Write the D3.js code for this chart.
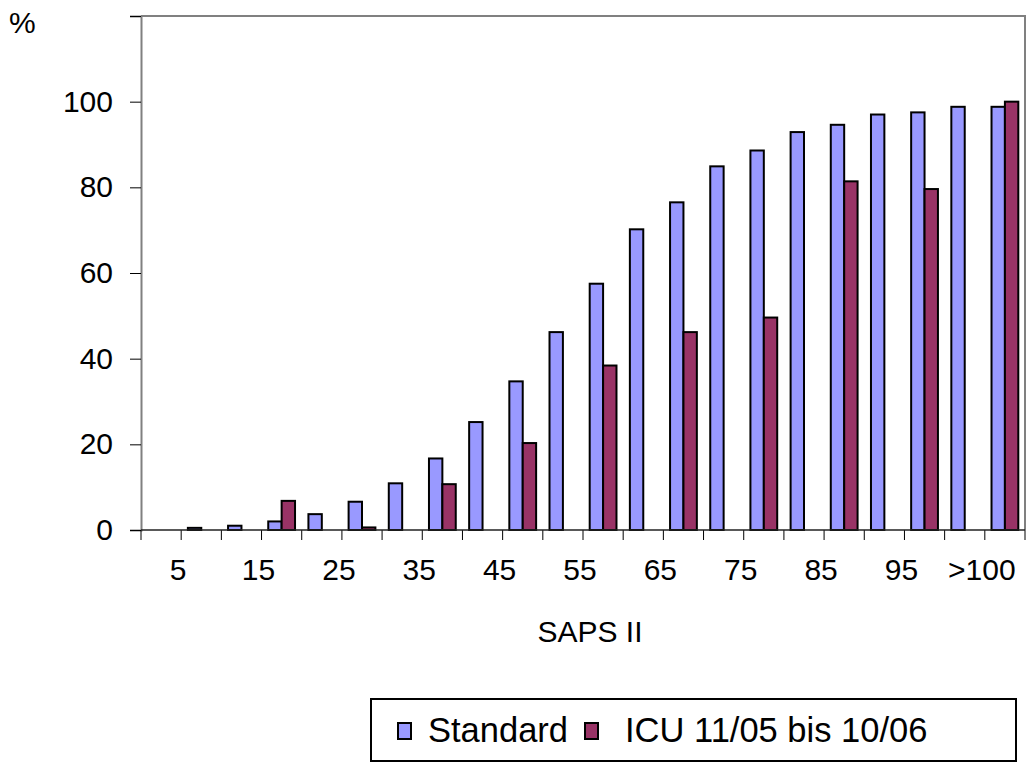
<!DOCTYPE html>
<html>
<head>
<meta charset="utf-8">
<script src="https://cdn.jsdelivr.net/npm/d3@7"></script>
<style>
  html, body { margin: 0; padding: 0; background: #fff; }
  svg { display: block; font-family: "Liberation Sans", Arial, sans-serif; }
</style>
</head>
<body>
<svg id="chart" width="1027" height="762"></svg>
<script>
// SAPS II score classes (0 … 100 in steps of 5, then >100)
const categories = ["0", "5", "10", "15", "20", "25", "30", "35", "40", "45", "50",
                    "55", "60", "65", "70", "75", "80", "85", "90", "95", "100", ">100"];

// Mortality in % per score class
const standardValues = [0, 0.5, 1, 2, 3.7, 6.6, 10.9, 16.7, 25.2, 34.7, 46.2,
                        57.5, 70.2, 76.5, 84.9, 88.6, 92.9, 94.6, 97.0, 97.5, 98.8, 98.8];
const icuValues      = [0, 0, 0, 6.8, 0, 0.6, 0, 10.7, 0, 20.3, 0,
                        38.4, 0, 46.2, 0, 49.6, 0, 81.4, 0, 79.6, 0, 100];

const yTicks = [0, 20, 40, 60, 80, 100, 120];
const seriesNames = ["Standard", "ICU 11/05 bis 10/06"];
const seriesColors = ["#9999FF", "#993366"];

const svg = d3.select("#chart");

const plot = { left: 141, right: 1025, top: 16, bottom: 530 };

const x = d3.scaleBand()
  .domain(categories)
  .range([plot.left, plot.right])
  .paddingInner(0)
  .paddingOuter(0);

const y = d3.scaleLinear()
  .domain([0, 120])
  .range([plot.bottom, plot.top]);

const bw = x.bandwidth();
const barW = bw / 3;

// plot frame (top and right edges)
svg.append("path")
  .attr("d", `M${plot.left},${plot.top}H${plot.right}V${plot.bottom}`)
  .attr("fill", "none")
  .attr("stroke", "#808080")
  .attr("stroke-width", 2);

// bars
const series = [standardValues, icuValues];
series.forEach((vals, si) => {
  const rows = categories.map((c, i) => ({ c, v: vals[i] })).filter(d => d.v > 0);
  svg.append("g")
    .selectAll("rect")
    .data(rows)
    .join("rect")
    .attr("x", d => x(d.c) + bw / 2 - barW + si * barW)
    .attr("y", d => y(d.v))
    .attr("width", barW)
    .attr("height", d => y(0) - y(d.v))
    .attr("fill", seriesColors[si])
    .attr("stroke", "#000")
    .attr("stroke-width", 2);
});

// y axis
const yAxis = d3.axisLeft(y)
  .tickValues(yTicks)
  .tickSize(11)
  .tickPadding(17)
  .tickFormat(d => d === 120 ? "" : d);

const gy = svg.append("g")
  .attr("transform", `translate(${plot.left},0)`)
  .call(yAxis);
gy.select(".domain").attr("stroke", "#808080").attr("stroke-width", 2);
gy.selectAll(".tick line").attr("stroke", "#000").attr("stroke-width", 1);
gy.selectAll(".tick text")
  .attr("font-size", 30)
  .attr("fill", "#000")
  .attr("font-family", "Liberation Sans, Arial, sans-serif");

// x axis: tick marks on class boundaries, labels on every other class
const gx = svg.append("g");
const boundaries = categories.map(c => x(c)).concat([x.range()[1]]);
gx.selectAll("line.tick")
  .data(boundaries)
  .join("line")
  .attr("class", "tick")
  .attr("x1", d => d).attr("x2", d => d)
  .attr("y1", plot.bottom).attr("y2", plot.bottom + 10)
  .attr("stroke", "#000")
  .attr("stroke-width", 1);
gx.append("line")
  .attr("x1", plot.left).attr("x2", plot.right)
  .attr("y1", plot.bottom).attr("y2", plot.bottom)
  .attr("stroke", "#222")
  .attr("stroke-width", 1.5);
gx.selectAll("text")
  .data(categories.filter((c, i) => i % 2 === 1))
  .join("text")
  .attr("x", d => x(d) - 3)
  .attr("y", 580)
  .attr("text-anchor", "middle")
  .attr("font-size", 30)
  .attr("fill", "#000")
  .text(d => d);

// axis titles
svg.append("text")
  .attr("x", 9).attr("y", 33)
  .attr("font-size", 30)
  .text("%");
svg.append("text")
  .attr("x", (plot.left + plot.right) / 2 + 7).attr("y", 642)
  .attr("text-anchor", "middle")
  .attr("font-size", 30)
  .text("SAPS II");

// legend
const legend = svg.append("g");
legend.append("rect")
  .attr("x", 371).attr("y", 699)
  .attr("width", 645).attr("height", 62)
  .attr("fill", "#fff")
  .attr("stroke", "#000")
  .attr("stroke-width", 2);
const legendItems = [
  { name: seriesNames[0], color: seriesColors[0], sx: 398, tx: 428 },
  { name: seriesNames[1], color: seriesColors[1], sx: 585, tx: 625 }
];
legendItems.forEach(it => {
  legend.append("rect")
    .attr("x", it.sx).attr("y", 723)
    .attr("width", 13).attr("height", 16)
    .attr("fill", it.color)
    .attr("stroke", "#000")
    .attr("stroke-width", 2);
  legend.append("text")
    .attr("x", it.tx).attr("y", 742)
    .attr("font-size", 34.5)
    .text(it.name);
});
</script>
</body>
</html>
